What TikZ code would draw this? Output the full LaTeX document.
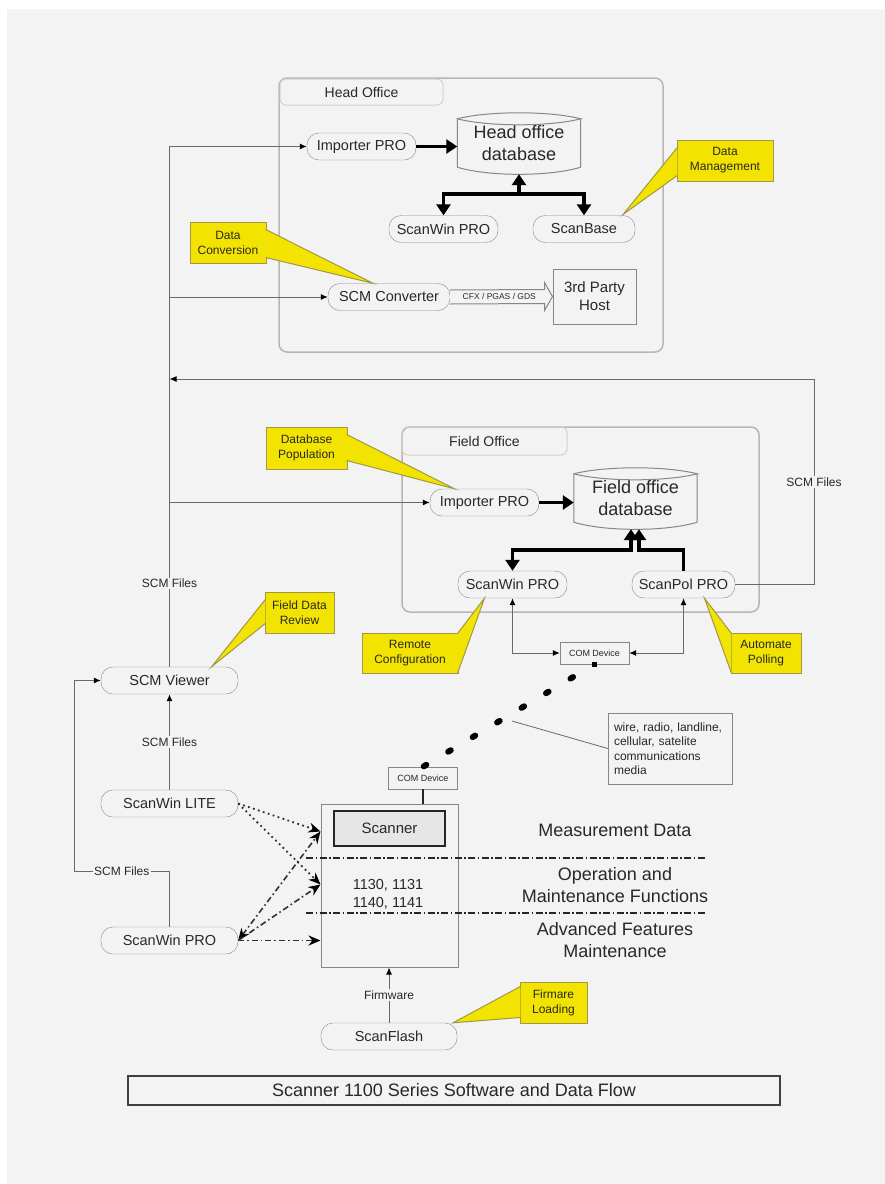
\documentclass[tikz,border=0pt]{standalone}
\usepackage{fontspec}
\setmainfont{Liberation Sans}
\usetikzlibrary{calc,arrows.meta}
\definecolor{bggray}{RGB}{243,243,243}
\definecolor{pillgray}{RGB}{135,135,135}
\definecolor{groupgray}{RGB}{188,180,180}
\definecolor{tabgray}{RGB}{212,208,208}
\definecolor{linegray}{RGB}{105,105,105}
\definecolor{txtgray}{RGB}{40,40,40}
\definecolor{noteyellow}{RGB}{242,228,0}
\definecolor{noteedge}{RGB}{160,152,70}
\definecolor{scanfill}{RGB}{230,230,230}

% outline of a database drum round a node
\newcommand{\dbdraw}[1]{%
  \draw[draw=pillgray, line width=1pt]
    ($(#1.north west)+(0,6)$) .. controls ($(#1.north west)+(31,-2)$) and ($(#1.north east)+(-31,-2)$) .. ($(#1.north east)+(0,6)$)
    .. controls ($(#1.north east)+(-31,14)$) and ($(#1.north west)+(31,14)$) .. ($(#1.north west)+(0,6)$)
    -- ($(#1.south west)+(0,-7)$)
    .. controls ($(#1.south west)+(31,2.5)$) and ($(#1.south east)+(-31,2.5)$) .. ($(#1.south east)+(0,-7)$)
    -- ($(#1.north east)+(0,6)$);}
% pointer of a yellow callout
\newcommand{\wedgeto}[3]{%
  \fill[noteyellow] #1 -- #2 -- #3 -- cycle;
  \draw[noteedge, line width=1pt] #1 -- #2 -- #3;}

\begin{document}
\begin{tikzpicture}[x=1pt,y=-1pt,
    >={Latex[length=7pt,width=6pt,color=black]},
    hv/.tip={Triangle[length=11pt,width=14pt]},
    st/.tip={Stealth[length=12pt,width=10pt,color=black]},
    pill/.style={draw=pillgray, fill=bggray, rounded corners=12pt, minimum height=27pt, inner sep=0pt,
      text=txtgray, font=\fontsize{14.5}{17}\selectfont},
    dbase/.style={minimum width=123pt, minimum height=61pt, inner sep=0pt, align=center,
      text=txtgray, font=\fontsize{18}{22}\selectfont},
    group/.style={draw=groupgray, line width=1.5pt, rounded corners=8pt, inner sep=0pt},
    grouptab/.style={draw=tabgray, line width=1pt, rounded corners=6pt, inner sep=0pt, text=txtgray,
      font=\fontsize{14}{16}\selectfont},
    plainbox/.style={draw=pillgray, fill=bggray, line width=1pt, inner sep=0pt, align=center, text=txtgray,
      font=\fontsize{15}{18}\selectfont},
    combox/.style={draw=pillgray, fill=bggray, minimum width=69pt, minimum height=22pt, inner sep=0pt,
      text=txtgray, font=\fontsize{9}{10}\selectfont},
    scanner/.style={draw=black!85, fill=scanfill, line width=2.5pt, minimum width=111pt, minimum height=35pt,
      inner sep=0pt, text=txtgray, font=\fontsize{15}{17}\selectfont},
    bigtext/.style={align=center, text=txtgray, font=\fontsize{18}{22}\selectfont},
    notebox/.style={draw=pillgray, fill=bggray, minimum width=124pt, minimum height=71pt, text width=112pt,
      align=left, inner sep=0pt, text=txtgray, font=\fontsize{12}{14.5}\selectfont},
    callout/.style={draw=noteedge, fill=noteyellow, line width=1pt, inner sep=0pt, align=center,
      text=txtgray, font=\fontsize{12}{15}\selectfont},
    titlebox/.style={draw=black!75, line width=1.3pt, minimum width=652pt, minimum height=29pt, inner sep=0pt,
      text=txtgray, font=\fontsize{18}{20}\selectfont},
    lbl/.style={fill=bggray, inner sep=1.5pt, text=txtgray, font=\fontsize{12}{14}\selectfont},
    flow/.style={draw=linegray, line width=1pt},
    heavy/.style={draw=black, line width=3.5pt},
    dotarrow/.style={draw=black!80, line width=1.8pt, dash pattern=on 1.8pt off 3.4pt},
    dashdot/.style={draw=black!80, line width=1.6pt, dash pattern=on 6pt off 3pt on 1.6pt off 3pt},
    sepline/.style={draw=black!85, line width=1.5pt, dash pattern=on 7pt off 2.5pt on 1.5pt off 2.5pt}]

  \useasboundingbox (0,0) rectangle (885,1184);
  \fill[bggray] (7,9) rectangle (885,1184);

  % offices
  \node[group, minimum width=384pt, minimum height=274pt] (ho) at (471,215) {};
  \node[grouptab, minimum width=163pt, minimum height=26pt] (hotab) at (361.5,92) {Head Office};
  \node[group, minimum width=357pt, minimum height=185pt] (fo) at (580.5,519.5) {};
  \node[grouptab, minimum width=165pt, minimum height=28pt] (fotab) at (484.5,441) {Field Office};

  % head office
  \node[pill, minimum width=109pt] (himp) at (361.5,146.5) {Importer PRO};
  \node[dbase] (hodb) at (519,143.5) {Head office\\database};
  \node[pill, minimum width=109pt] (hswin) at (443.5,229) {ScanWin PRO};
  \node[pill, minimum width=102pt] (sbase) at (584,229) {ScanBase};
  \node[pill, minimum width=122pt] (conv) at (389,297) {SCM Converter};
  \node[plainbox, minimum width=83pt, minimum height=55pt] (host) at (594.5,296.5) {3rd Party\\Host};
  \dbdraw{hodb}

  % field office
  \node[pill, minimum width=109pt] (fimp) at (484.5,502.5) {Importer PRO};
  \node[dbase] (fodb) at (635.5,498.5) {Field office\\database};
  \node[pill, minimum width=109pt] (fswin) at (512.5,584.5) {ScanWin PRO};
  \node[pill, minimum width=103pt] (spol) at (683.5,584.5) {ScanPol PRO};
  \node[combox] (comA) at (594.5,653) {COM Device};
  \dbdraw{fodb}

  % field side
  \node[pill, minimum width=137pt] (viewer) at (169.5,680.5) {SCM Viewer};
  \node[pill, minimum width=137pt] (lite) at (169.5,803.5) {ScanWin LITE};
  \node[pill, minimum width=137pt] (bswin) at (169.5,940.5) {ScanWin PRO};
  \node[pill, minimum width=136pt] (flash) at (389,1036.5) {ScanFlash};

  % scanner
  \node[combox] (comB) at (423,778) {COM Device};
  \node[plainbox, minimum width=137pt, minimum height=163pt] (scanbox) at (389.5,885.5) {};
  \node[scanner] (scanner) at (389.5,828.5) {Scanner};
  \node[align=center, text=txtgray, font=\fontsize{14.5}{18}\selectfont] (models) at (388,894) {1130, 1131\\1140, 1141};
  \draw[sepline] (306,858) -- (705,858);
  \draw[sepline] (306,913) -- (705,913);
  \node[bigtext] (meas) at (615,830) {Measurement Data};
  \node[bigtext] (oper) at (615,885) {Operation and\\Maintenance Functions};
  \node[bigtext] (adv) at (615,940) {Advanced Features\\Maintenance};
  \node[notebox] (media) at (670,748.5) {wire, radio, landline,\\cellular, satelite\\communications\\media};
  \node[titlebox] (title) at (454,1090.5) {Scanner 1100 Series Software and Data Flow};

  \coordinate (retR) at (814,379);
  \coordinate (loopL) at (74,871);
  \coordinate (mediaptr) at (512,721);
  \coordinate (fj1) at (631,550);
  \coordinate (fj2) at (639,550);
  \coordinate (hj) at (519,194);
  \coordinate (tgtA) at ($(scanbox.north west)+(0,28)$);
  \coordinate (tgtB) at ($(scanbox.north west)+(0,81)$);
  \coordinate (tgtC) at (scanbox.west |- bswin.east);

  % heavy links
  \draw[heavy,-hv] (himp.east) -- (himp.east -| hodb.west);
  \draw[heavy,-hv] (hj) -- (hodb.south);
  \draw[heavy,hv-hv] (hswin.north) |- (hj) -| (sbase.north);
  \draw[heavy,-hv] (fimp.east) -- (fimp.east -| fodb.west);
  \draw[heavy,hv-hv] (fswin.north) |- (fj1) -- (fj1 |- fodb.south);
  \draw[heavy,-hv] (spol.north) |- (fj2) -- (fj2 |- fodb.south);

  % export to host
  \draw[draw=pillgray, line width=1pt, fill=bggray] ($(conv.east)+(0,-7)$) -- ($(host.west)+(-8,-7)$) -- ($(host.west)+(-8,-14)$)
    -- (host.west) -- ($(host.west)+(-8,14)$) -- ($(host.west)+(-8,7)$) -- ($(conv.east)+(0,7)$);
  \node[text=txtgray, font=\fontsize{8.5}{10}\selectfont, inner sep=0pt] (cfx) at ($(conv.east)!0.48!(host.west)$) {CFX / PGAS / GDS};

  % scm files
  \draw[flow,->] (viewer.north) -- node[lbl,pos=0.16]{SCM Files} (viewer.north |- himp.west) -- (himp.west);
  \draw[flow,->] (viewer.north |- conv.west) -- (conv.west);
  \draw[flow,->] (viewer.north |- fimp.west) -- (fimp.west);
  \draw[flow,->] (spol.east) -| node[lbl,pos=0.75]{SCM Files} (retR) -- (viewer.north |- retR);
  \draw[flow,->] (lite.north) -- node[lbl]{SCM Files} (viewer.south);
  \draw[flow,->] (bswin.north) |- node[lbl,pos=0.75]{SCM Files} (loopL) |- (viewer.west);
  \draw[flow,->] (flash.north) -- node[lbl]{Firmware} (flash.north |- scanbox.south);

  % com devices
  \draw[flow,<->] (fswin.south) |- (comA.west);
  \draw[flow,<->] (spol.south) |- (comA.east);
  \fill[black] ($(comA.south)+(-2.5,-2.5)$) rectangle ($(comA.south)+(2.5,2.5)$);
  \draw[black, line width=6pt, line cap=round, dash pattern=on 3pt off 25.5pt, dash phase=3.5pt] (comA.south) -- (comB.north);
  \draw[flow, line width=0.8pt] (media.west) -- (mediaptr);
  \draw[black!85, line width=1.5pt] (comB.south) -- (comB.south |- scanbox.north);

  % software to scanner
  \draw[dotarrow,-st] (lite.east) -- (tgtA);
  \draw[dotarrow,-st] (lite.east) -- (tgtB);
  \draw[dashdot,st-st] (bswin.east) -- (tgtA);
  \draw[dashdot,-st] (bswin.east) -- (tgtB);
  \draw[dashdot,-st] (bswin.east) -- (tgtC);

  % callouts
  \node[callout, minimum width=96pt, minimum height=41pt] (dm) at (725,160.5) {Data\\Management};
  \wedgeto{($(dm.north west)+(0.8,8)$)}{($(sbase.north east)+(-12,-1)$)}{($(dm.south west)+(0.8,-6)$)}
  \node[callout, minimum width=76pt, minimum height=41pt] (dc) at (228,242.5) {Data\\Conversion};
  \wedgeto{($(dc.north east)+(-0.8,8)$)}{($(conv.north)+(-16,0)$)}{($(dc.south east)+(-0.8,-6)$)}
  \node[callout, minimum width=81pt, minimum height=42pt] (dp) at (306.5,448) {Database\\Population};
  \wedgeto{($(dp.north east)+(-0.8,8)$)}{($(fimp.north)+(-30,0)$)}{($(dp.south east)+(-0.8,-9)$)}
  \node[callout, minimum width=69pt, minimum height=41pt] (fdr) at (299.5,612.5) {Field Data\\Review};
  \wedgeto{($(fdr.north west)+(0.8,8)$)}{($(viewer.north)+(42,0)$)}{($(fdr.south west)+(0.8,-10)$)}
  \node[callout, minimum width=96pt, minimum height=40pt] (rc) at (410,653) {Remote\\Configuration};
  \wedgeto{($(rc.north east)+(-0.8,0.8)$)}{($(fswin.south)+(-28,0)$)}{($(rc.south east)+(-0.8,-0.8)$)}
  \node[callout, minimum width=70pt, minimum height=40pt] (ap) at (766,653) {Automate\\Polling};
  \wedgeto{($(ap.north west)+(0.8,0.8)$)}{($(spol.south)+(21,0)$)}{($(ap.south west)+(0.8,-0.8)$)}
  \node[callout, minimum width=67pt, minimum height=41pt] (fl) at (553.5,1002.5) {Firmare\\Loading};
  \wedgeto{($(fl.north west)+(0.8,5)$)}{($(flash.north)+(64,0)$)}{($(fl.south west)+(0.8,-6)$)}
\end{tikzpicture}
\end{document}
